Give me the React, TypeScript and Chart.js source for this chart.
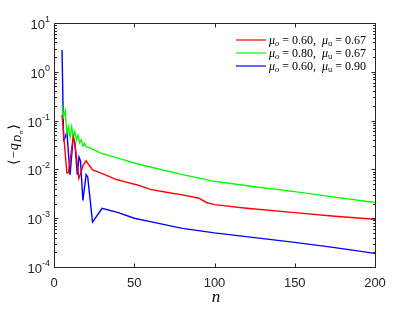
import React, { useEffect, useRef } from "react";
import { Chart, registerables } from "chart.js";

Chart.register(...registerables);

const redN = [5, 8, 9, 12, 13, 15.5, 16.5, 18, 20, 22, 24, 29, 39, 45, 52, 60, 70, 80, 90, 95, 100, 120, 150, 175, 200];
const redQ = [0.13, 0.0085, 0.0085, 0.046, 0.035, 0.0065, 0.008, 0.012, 0.015, 0.012, 0.0098, 0.0085, 0.0062, 0.0055, 0.0048, 0.0039, 0.0034, 0.003, 0.0026, 0.0021, 0.0019, 0.0016, 0.0013, 0.0011, 0.00095];

const greenN = [5, 6, 7, 8, 9, 10, 11, 12, 13, 14, 15, 16, 17, 18, 19, 20, 22, 25, 30, 40, 50, 60, 80, 100, 125, 150, 175, 200];
const greenQ = [0.21, 0.12, 0.16, 0.056, 0.075, 0.046, 0.075, 0.045, 0.06, 0.04, 0.05, 0.035, 0.04, 0.03, 0.035, 0.029, 0.028, 0.025, 0.021, 0.017, 0.0135, 0.0112, 0.0078, 0.0057, 0.0044, 0.0035, 0.0027, 0.0021];

const blueN = [5, 6, 7, 8, 10, 12, 13, 14.5, 15.6, 16.5, 18, 20, 21, 24, 30, 40, 50, 60, 80, 100, 125, 150, 175, 200];
const blueQ = [2.8, 0.04, 0.045, 0.059, 0.0078, 0.046, 0.035, 0.0078, 0.018, 0.015, 0.0023, 0.0078, 0.007, 0.00083, 0.0016, 0.0013, 0.001, 0.00085, 0.00062, 0.0005, 0.0004, 0.00032, 0.00025, 0.00019];

const xTicks = [0, 50, 100, 150, 200];
const yExponents = [-4, -3, -2, -1, 0, 1];

const legendMuO = ["0.60", "0.80", "0.60"];
const legendMuU = ["0.67", "0.67", "0.90"];
const seriesColors = ["#ff0000", "#00ff00", "#0000ff"];

const AXIS = "#262626";
const SANS = "'Liberation Sans', Arial, Helvetica, sans-serif";
const SERIF = "'Liberation Serif', 'DejaVu Serif', serif";

const decor = {
  id: "decor",
  afterDatasetsDraw(chart: any) {
    const ctx = chart.ctx as CanvasRenderingContext2D;
    const area = chart.chartArea;
    const xs = chart.scales.x;
    const ys = chart.scales.y;
    ctx.save();

    // legend
    const rowY0 = 40;
    const rowH = 13;
    for (let i = 0; i < 3; i++) {
      const y = rowY0 + i * rowH;
      ctx.strokeStyle = seriesColors[i];
      ctx.lineWidth = 1.2;
      ctx.beginPath();
      ctx.moveTo(236, y);
      ctx.lineTo(266, y);
      ctx.stroke();
      let x = 269;
      ctx.fillStyle = "#000";
      ctx.textBaseline = "alphabetic";
      ctx.textAlign = "left";
      const base = y + 4;
      const part = (t: string, font: string, dy = 0) => {
        ctx.font = font;
        ctx.fillText(t, x, base + dy);
        x += ctx.measureText(t).width;
      };
      part("μ", `italic 12px ${SERIF}`);
      part("o", `italic 8.5px ${SERIF}`, 2);
      part(" = " + legendMuO[i] + ",  ", `12px ${SERIF}`);
      part("μ", `italic 12px ${SERIF}`);
      part("u", `8.5px ${SERIF}`, 2);
      part(" = " + legendMuU[i], `12px ${SERIF}`);
    }

    // box
    ctx.strokeStyle = AXIS;
    ctx.lineWidth = 1;
    const L = Math.round(area.left) + 0.5;
    const R = Math.round(area.right) + 0.5;
    const T = Math.round(area.top) + 0.5;
    const B = Math.round(area.bottom) + 0.5;
    ctx.beginPath();
    ctx.rect(L, T, R - L, B - T);
    ctx.stroke();

    // x ticks
    ctx.beginPath();
    for (const v of xTicks) {
      const px = Math.round(xs.getPixelForValue(v)) + 0.5;
      ctx.moveTo(px, B);
      ctx.lineTo(px, B - 4);
      ctx.moveTo(px, T);
      ctx.lineTo(px, T + 4);
    }
    // y ticks
    for (const e of yExponents) {
      for (let k = 1; k <= 9; k++) {
        const v = k * Math.pow(10, e);
        if (v > 10.0001) break;
        const py = Math.round(ys.getPixelForValue(v)) + 0.5;
        const len = k === 1 ? 4 : 2.5;
        ctx.moveTo(L, py);
        ctx.lineTo(L + len, py);
        ctx.moveTo(R, py);
        ctx.lineTo(R - len, py);
      }
    }
    ctx.stroke();

    // x tick labels
    ctx.fillStyle = AXIS;
    ctx.font = `13px ${SANS}`;
    ctx.textAlign = "center";
    ctx.textBaseline = "middle";
    for (const v of xTicks) {
      ctx.fillText(String(v), xs.getPixelForValue(v), area.bottom + 16);
    }

    // y tick labels
    for (const e of yExponents) {
      const py = ys.getPixelForValue(Math.pow(10, e));
      const exp = String(e);
      ctx.font = `9px ${SANS}`;
      const ew = ctx.measureText(exp).width;
      ctx.font = `13px ${SANS}`;
      const mw = ctx.measureText("10").width;
      const right = 50;
      ctx.textAlign = "left";
      ctx.textBaseline = "alphabetic";
      ctx.fillText("10", right - ew - mw, py + 6);
      ctx.font = `9px ${SANS}`;
      ctx.fillText(exp, right - ew, py - 1);
    }

    // x label
    ctx.fillStyle = "#000";
    ctx.font = `italic 17px ${SERIF}`;
    ctx.textAlign = "center";
    ctx.textBaseline = "middle";
    ctx.fillText("n", 216, 298);

    // y label (rotated)
    ctx.translate(14, 144);
    ctx.rotate(-Math.PI / 2);
    const pieces: [string, string, number][] = [
      ["⟨", `14px 'DejaVu Serif', serif`, 0],
      ["−", `13px ${SERIF}`, 0],
      ["q", `italic 14px ${SERIF}`, 0],
      ["D", `italic 10px ${SERIF}`, 3],
      ["n", `italic 7px ${SERIF}`, 5],
      ["⟩", `14px 'DejaVu Serif', serif`, 0],
    ];
    let total = 0;
    for (const [t, f] of pieces) {
      ctx.font = f;
      total += ctx.measureText(t).width + 1;
    }
    let cx = -total / 2;
    ctx.textAlign = "left";
    ctx.textBaseline = "alphabetic";
    for (const [t, f, dy] of pieces) {
      ctx.font = f;
      ctx.fillText(t, cx, 4 + dy);
      cx += ctx.measureText(t).width + 1;
    }
    ctx.restore();
  },
};

export default function App() {
  const ref = useRef<HTMLCanvasElement | null>(null);
  useEffect(() => {
    if (!ref.current) return;
    const mk = (xsArr: number[], ysArr: number[]) => xsArr.map((x, i) => ({ x, y: ysArr[i] }));
    const chart = new Chart(ref.current, {
      type: "line",
      data: {
        datasets: [
          { label: "red", data: mk(redN, redQ), borderColor: seriesColors[0] },
          { label: "green", data: mk(greenN, greenQ), borderColor: seriesColors[1] },
          { label: "blue", data: mk(blueN, blueQ), borderColor: seriesColors[2] },
        ],
      },
      options: {
        animation: false,
        responsive: false,
        maintainAspectRatio: false,
        layout: { padding: { left: 54, right: 40, top: 23, bottom: 45 } },
        elements: {
          point: { radius: 0 },
          line: { borderWidth: 1.4, tension: 0, fill: false },
        },
        scales: {
          x: { type: "linear", min: 0, max: 200, display: false },
          y: { type: "logarithmic", min: 1e-4, max: 10, display: false },
        },
        plugins: { legend: { display: false }, tooltip: { enabled: false } },
      },
      plugins: [decor],
    });
    return () => chart.destroy();
  }, []);
  return (
    <div style={{ position: "absolute", left: 0, top: 0, width: 415, height: 312, background: "#fff" }}>
      <canvas ref={ref} width={415} height={312} style={{ width: 415, height: 312 }} />
    </div>
  );
}
